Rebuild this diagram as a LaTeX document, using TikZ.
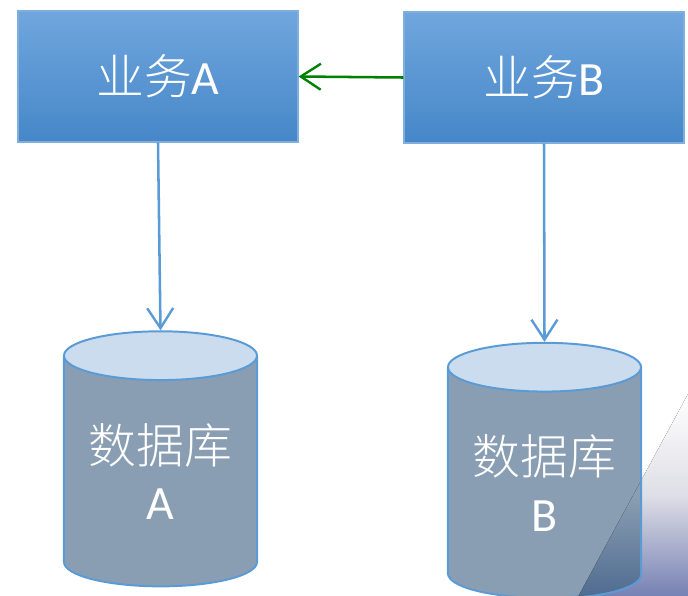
\documentclass[tikz,border=0pt]{standalone}
\usepackage{fontspec}
\setmainfont{Carlito}
\newfontfamily\cjk{Noto Sans CJK SC Light}
\usetikzlibrary{arrows.meta,shapes.geometric}
\definecolor{edgeblue}{HTML}{5B9BD5}
\definecolor{boxedge}{HTML}{7FAEDF}
\definecolor{boxtop}{HTML}{70A6DD}
\definecolor{boxbot}{HTML}{4687C8}
\definecolor{dbbody}{HTML}{8A9EB3}
\definecolor{dbtop}{HTML}{CBDCEF}
\definecolor{dbdark}{HTML}{4F6B90}
\definecolor{wedgemid}{HTML}{DEDEE6}
\definecolor{wedgebot}{HTML}{7480B2}
\definecolor{callgreen}{HTML}{008000}
\tikzset{
    >={Straight Barb[length=5mm,width=6.5mm,line width=1.7pt]},
    svc/.style={rectangle,draw=boxedge,line width=0.8pt,top color=boxtop,bottom color=boxbot,
        minimum width=7cm,minimum height=3.275cm,text=white,inner sep=0pt,
        font=\fontsize{34}{44}\selectfont},
    db/.style={cylinder,shape border rotate=90,shape aspect=0.34,draw=edgeblue,line width=1.4pt,
        cylinder uses custom fill,cylinder body fill=dbbody,cylinder end fill=dbtop,
        minimum width=4.825cm,minimum height=6.375cm,text=white,inner sep=0pt,align=center,
        font=\fontsize{34}{40}\selectfont},
    link/.style={->,draw=edgeblue,line width=1.8pt},
    call/.style={->,draw=callgreen,line width=1.8pt}
}
\newcommand{\svcbox}[4]{
    \node[svc] (#1) at (#2,#3) {{\cjk 业务}#4};
}
\newcommand{\dbcan}[4]{
    \node[db] (#1) at (#2,#3) {{\cjk 数据库}\\#4};
}
\begin{document}
\begin{tikzpicture}[x=0.025cm,y=0.025cm]
    \useasboundingbox (0,0) rectangle (688,-595);
    % corner wedge behind the right can
    \fill[top color=white,bottom color=wedgebot,middle color=wedgemid]
        (688,-394) -- (688,-597) -- (578,-597) -- cycle;
    \svcbox{svcA}{158}{-76.5}{A}
    \svcbox{svcB}{544}{-77.5}{B}
    \dbcan{dbA}{160.5}{-471.5}{A}
    \dbcan{dbB}{544.5}{-483}{B}
    \begin{scope}
        \clip (641,-367) -- (641,-575) arc[start angle=0,end angle=-180,x radius=2.41cm,y radius=0.6cm]
            -- (448,-367) -- cycle;
        \fill[top color=dbbody,bottom color=dbdark,middle color=dbbody]
            (688,-394) -- (688,-597) -- (578,-597) -- cycle;
    \end{scope}
    \draw[edgeblue,line width=1.4pt] (641,-367) -- (641,-575) arc[start angle=0,end angle=-90,x radius=2.41cm,y radius=0.6cm];
    \draw[link] (svcA.south) -- (dbA.north);
    \draw[link] (svcB.south) -- (dbB.north);
    \draw[call] (svcB.west) -- (svcA.east);
\end{tikzpicture}
\end{document}
